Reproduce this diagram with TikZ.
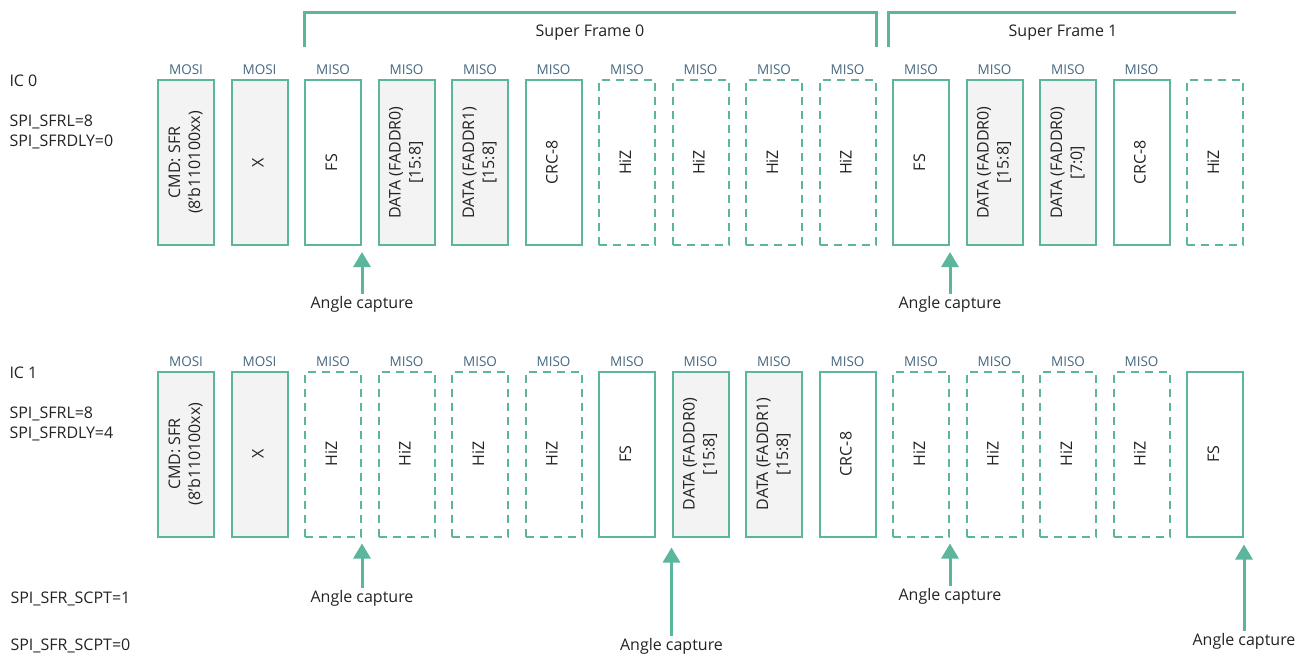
\documentclass[tikz,border=0pt]{standalone}
\usepackage{fontspec}
\setmainfont{Open Sans}
\usetikzlibrary{arrows.meta}

\definecolor{sfgreen}{RGB}{92,182,158}
\definecolor{pinblue}{RGB}{70,104,128}
\definecolor{cellgray}{RGB}{243,243,243}
\definecolor{ink}{RGB}{35,35,35}

\newcommand{\boxtext}[1]{\rotatebox{90}{\begin{tabular}{@{}c@{}}#1\end{tabular}}}

\begin{document}
\begin{tikzpicture}
		[x=1pt,y=-1pt,
		every node/.style={font=\fontsize{16}{20}\selectfont,text=ink},
		cell/.style={draw=sfgreen,line width=2pt,minimum width=56pt,minimum height=165pt,inner sep=0pt},
		fsbox/.style={cell,fill=white},
		databox/.style={cell,fill=cellgray},
		hizbox/.style={cell,fill=white,dash pattern=on 8pt off 6pt},
		pinlbl/.style={font=\fontsize{13.5}{15}\selectfont,text=pinblue,inner sep=1pt},
		frame/.style={draw=sfgreen,line width=3pt},
		capture/.style={draw=sfgreen,line width=3pt,-{Triangle[width=17pt,length=15pt]}},
		caption/.style={inner sep=2pt}]
		\useasboundingbox (0,0) rectangle (1303,656);

		% IC 0
		\node[anchor=west] (ic0) at (6,81) {IC 0};
		\node[anchor=west,align=left] (cfg0) at (6,132) {SPI\_SFRL=8\\SPI\_SFRDLY=0};
		\foreach \i/\kind/\pin/\txt in {
			1/databox/MOSI/{CMD: SFR\\(8'b110100xx)},
			2/databox/MOSI/X,
			3/fsbox/MISO/FS,
			4/databox/MISO/{DATA (FADDR0)\\{[15:8]}},
			5/databox/MISO/{DATA (FADDR1)\\{[15:8]}},
			6/fsbox/MISO/CRC-8,
			7/hizbox/MISO/HiZ,
			8/hizbox/MISO/HiZ,
			9/hizbox/MISO/HiZ,
			10/hizbox/MISO/HiZ,
			11/fsbox/MISO/FS,
			12/databox/MISO/{DATA (FADDR0)\\{[15:8]}},
			13/databox/MISO/{DATA (FADDR0)\\{[7:0]}},
			14/fsbox/MISO/CRC-8,
			15/hizbox//HiZ}
			\node[\kind,label={[pinlbl,label distance=3pt]above:\pin}] (a\i) at ({186+(\i-1)*73.5},162.5) {\boxtext{\txt}};

		% super frames
		\draw[frame] ([yshift=32pt]a3.north west) |- ([yshift=67pt]a10.north east) coordinate (sf0r)
			-- ([yshift=32pt]a10.north east);
		\draw[frame] ([xshift=-4pt,yshift=32pt]a11.north west) |- ([xshift=-8pt,yshift=67pt]a15.north east) coordinate (sf1r);
		\node (sf0) at (590,33) {Super Frame 0};
		\node (sf1) at (1063,33) {Super Frame 1};

		\node[caption] (ac01) at ([yshift=-58pt]a3.south east) {Angle capture};
		\node[caption] (ac02) at ([yshift=-58pt]a11.south east) {Angle capture};
		\draw[capture] (ac01.north) -- ([yshift=-6pt]a3.south east);
		\draw[capture] (ac02.north) -- ([yshift=-6pt]a11.south east);

		% IC 1
		\node[anchor=west] (ic1) at (6,373) {IC 1};
		\node[anchor=west,align=left] (cfg1) at (6,424) {SPI\_SFRL=8\\SPI\_SFRDLY=4};
		\foreach \i/\kind/\pin/\txt in {
			1/databox/MOSI/{CMD: SFR\\(8'b110100xx)},
			2/databox/MOSI/X,
			3/hizbox/MISO/HiZ,
			4/hizbox/MISO/HiZ,
			5/hizbox/MISO/HiZ,
			6/hizbox/MISO/HiZ,
			7/fsbox/MISO/FS,
			8/databox/MISO/{DATA (FADDR0)\\{[15:8]}},
			9/databox/MISO/{DATA (FADDR1)\\{[15:8]}},
			10/fsbox/MISO/CRC-8,
			11/hizbox/MISO/HiZ,
			12/hizbox/MISO/HiZ,
			13/hizbox/MISO/HiZ,
			14/hizbox/MISO/HiZ,
			15/fsbox//FS}
			\node[\kind,label={[pinlbl,label distance=3pt]above:\pin}] (b\i) at ({186+(\i-1)*73.5},454) {\boxtext{\txt}};

		\node[anchor=west] (scpt1) at (7,599) {SPI\_SFR\_SCPT=1};
		\node[anchor=west] (scpt0) at (7,646) {SPI\_SFR\_SCPT=0};

		\node[caption] (ac11) at ([yshift=-61pt]b3.south east) {Angle capture};
		\node[caption] (ac12) at ([yshift=-109pt]b8.south west) {Angle capture};
		\node[caption] (ac13) at ([yshift=-59pt]b11.south east) {Angle capture};
		\node[caption] (ac14) at ([yshift=-104pt]b15.south east) {Angle capture};
		\draw[capture] (ac11.north) -- ([yshift=-6pt]b3.south east);
		\draw[capture] (ac12.north) -- ([yshift=-10pt]b8.south west);
		\draw[capture] (ac13.north) -- ([yshift=-6pt]b11.south east);
		\draw[capture] (ac14.north) -- ([yshift=-7pt]b15.south east);
\end{tikzpicture}
\end{document}
